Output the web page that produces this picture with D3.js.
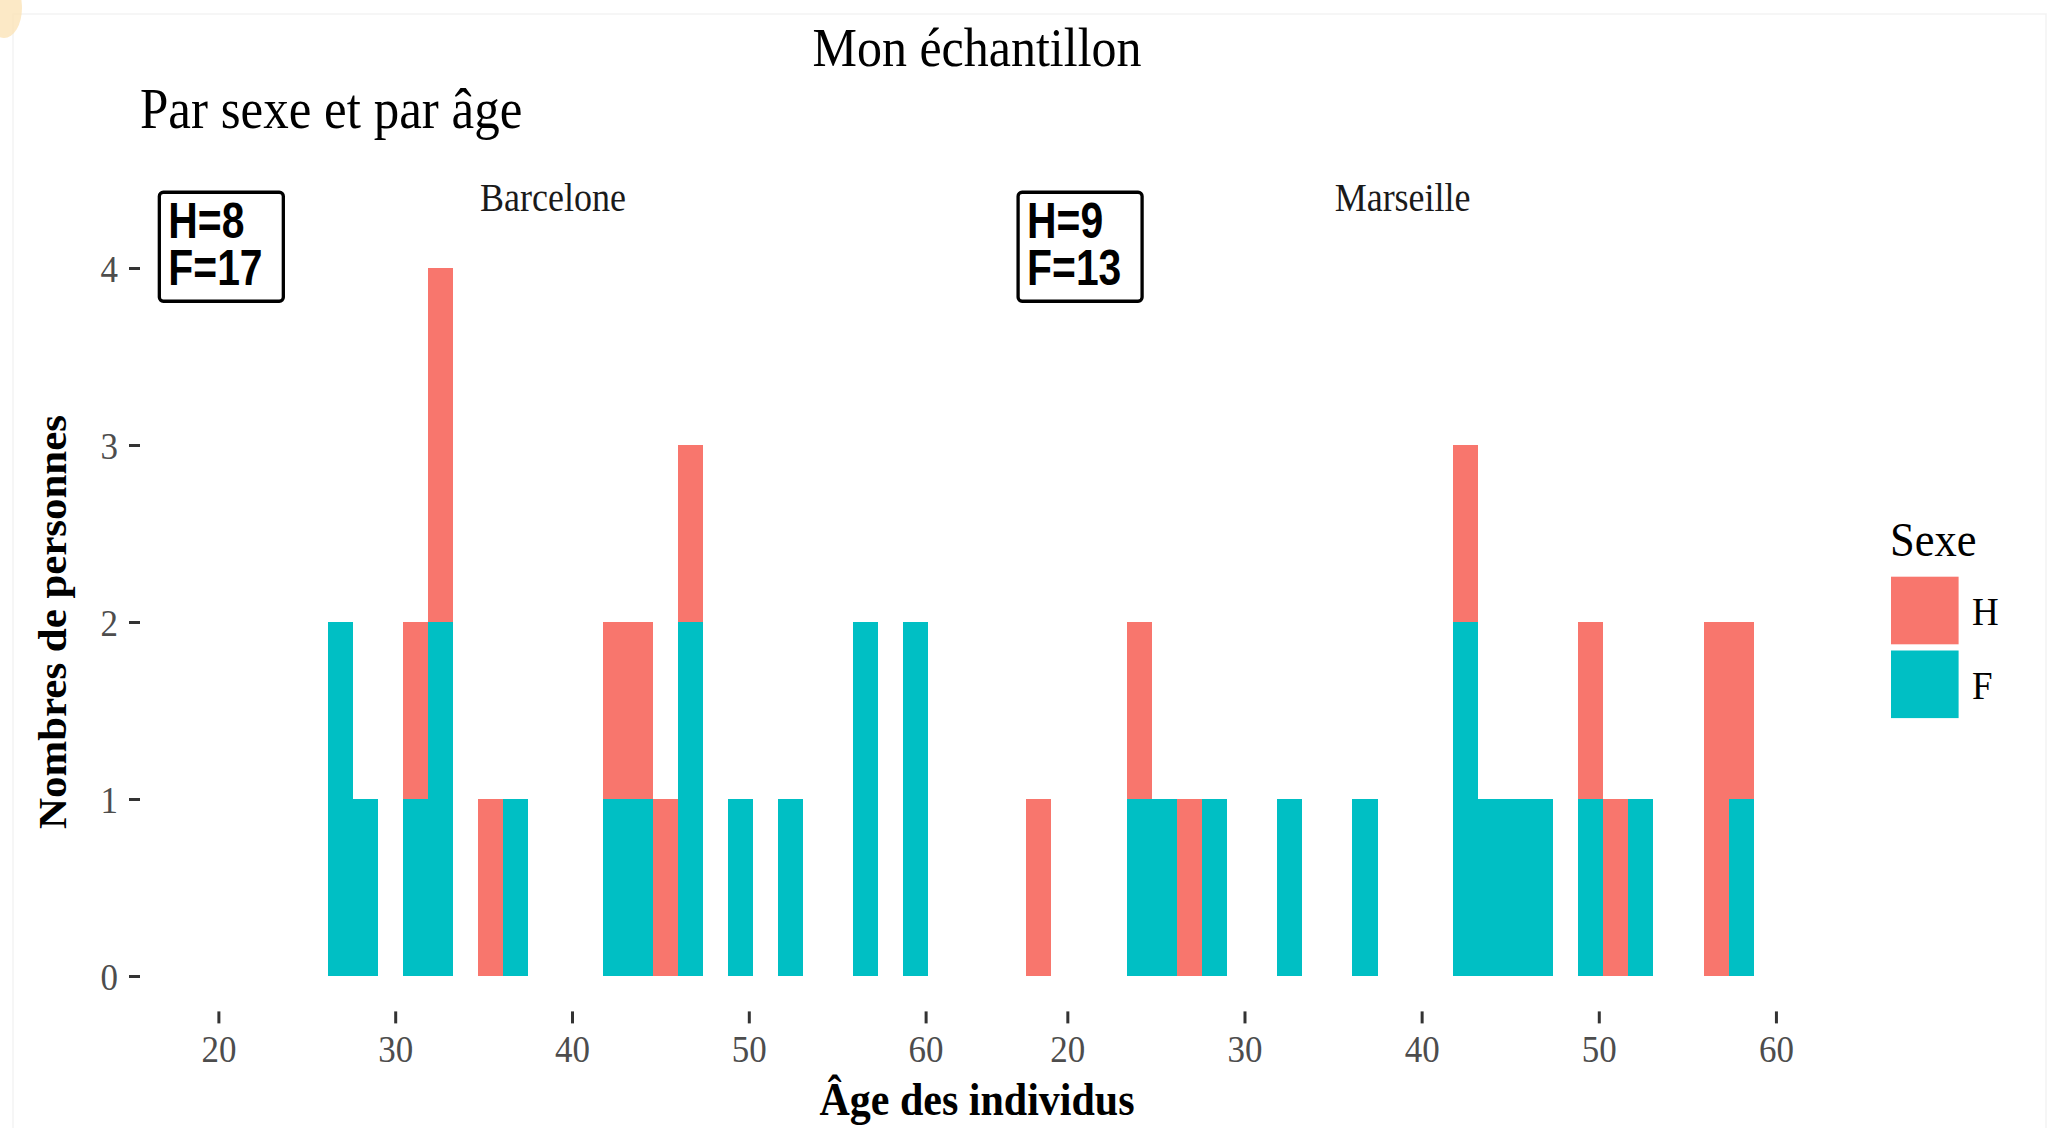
<!DOCTYPE html>
<html>
<head>
<meta charset="utf-8">
<script src="https://cdn.jsdelivr.net/npm/d3@7"></script>
<style>
  html, body { margin: 0; padding: 0; background: #fff; }
  svg { display: block; }
  .serif { font-family: "Liberation Serif", "Times New Roman", serif; }
</style>
</head>
<body>
<div id="chart"></div>
<script>
// Histogram bins (30 bins, same for both facets)
const binStart = 17.69;
const binWidth = 1.4157;
const nBins = 30;

// counts per bin, index 0..29
const barceloneH = [0,0,0,0,0,0,0,0,0,1,2,0,1,0,0,0,0,1,1,1,1,0,0,0,0,0,0,0,0,0];
const barceloneF = [0,0,0,0,0,0,2,1,0,1,2,0,0,1,0,0,0,1,1,0,2,0,1,0,1,0,0,2,0,2];
const marseilleH = [1,0,0,0,1,0,1,0,0,0,0,0,0,0,0,0,0,1,0,0,0,0,1,1,0,0,0,2,1,0];
const marseilleF = [0,0,0,0,1,1,0,1,0,0,1,0,0,1,0,0,0,2,1,1,1,0,1,0,1,0,0,0,1,0];

const cities = ['Barcelone', 'Marseille'];
const sexes = ['H', 'F'];
const xTicks = [20, 30, 40, 50, 60];
const yTicks = [0, 1, 2, 3, 4];
// where the count labels sit (age, count)
const labelAges = [16.66, 17.22];
const labelCount = 4.12;

const colors = { H: '#F8766D', F: '#00BFC4' };
const SY = 1.1; // the picture is a bit taller than wide

(function() {
  const width = 2063, height = 1128;
  const panelTop = 232.6, panelBottom = 1011.4;
  const panelX = [[140, 966], [988.8, 1816.4]];

  const svg = d3.select('#chart').append('svg')
    .attr('width', width)
    .attr('height', height)
    .style('background', '#fff');

  // faint frame of the screenshot
  svg.append('rect')
    .attr('x', 13).attr('y', 14).attr('width', 2033).attr('height', 1200)
    .attr('fill', 'none').attr('stroke', '#f3f3f3').attr('stroke-width', 1.5);
  svg.append('ellipse')
    .attr('cx', 4).attr('cy', 8).attr('rx', 18).attr('ry', 30)
    .attr('fill', '#fbe3b8').attr('opacity', 0.8);

  // helper for text with the vertical stretch
  function txt(x, y, s, size, opts = {}) {
    return svg.append('text')
      .attr('class', 'serif')
      .attr('transform', `translate(${x},${y}) scale(1,${SY})` + (opts.rotate ? ` rotate(${opts.rotate})` : ''))
      .attr('font-size', size)
      .attr('font-weight', opts.bold ? 'bold' : 'normal')
      .attr('text-anchor', opts.anchor || 'start')
      .attr('fill', opts.fill || '#000')
      .text(s);
  }

  const dataSets = {
    Barcelone: { H: barceloneH, F: barceloneF },
    Marseille: { H: marseilleH, F: marseilleF }
  };

  const dataMin = binStart;
  const dataMax = binStart + nBins * binWidth;
  const pad = 0.05 * (dataMax - dataMin);

  const y = d3.scaleLinear()
    .domain([-0.2, 4.2])
    .range([panelBottom, panelTop]);

  const stack = d3.stack().keys(['F', 'H']);

  cities.forEach((city, ci) => {
    const x = d3.scaleLinear()
      .domain([dataMin - pad, dataMax + pad])
      .range(panelX[ci]);

    const rows = d3.range(nBins).map(i => ({
      x0: binStart + i * binWidth,
      x1: binStart + (i + 1) * binWidth,
      F: dataSets[city].F[i],
      H: dataSets[city].H[i]
    }));

    const g = svg.append('g').attr('shape-rendering', 'crispEdges');
    stack(rows).forEach(layer => {
      g.selectAll(null)
        .data(layer.filter(d => d[1] > d[0]))
        .join('rect')
        .attr('x', d => x(d.data.x0))
        .attr('width', d => x(d.data.x1) - x(d.data.x0))
        .attr('y', d => y(d[1]))
        .attr('height', d => y(d[0]) - y(d[1]))
        .attr('fill', colors[layer.key]);
    });

    // x axis
    const xa = svg.append('g')
      .attr('transform', `translate(0,${panelBottom})`)
      .call(d3.axisBottom(x).tickValues(xTicks).tickSize(12).tickFormat(d3.format('d')));
    xa.select('.domain').remove();
    xa.selectAll('.tick line').attr('stroke', '#333333').attr('stroke-width', 3);
    xa.selectAll('.tick text')
      .attr('class', 'serif')
      .attr('y', null).attr('dy', null)
      .attr('transform', `translate(0,51) scale(1,${SY})`)
      .attr('font-size', 35)
      .attr('fill', '#4D4D4D');

    // y axis only on first panel
    if (ci === 0) {
      const ya = svg.append('g')
        .attr('transform', `translate(${panelX[0][0]},0)`)
        .call(d3.axisLeft(y).tickValues(yTicks).tickSize(11).tickFormat(d3.format('d')));
      ya.select('.domain').remove();
      ya.selectAll('.tick line').attr('stroke', '#333333').attr('stroke-width', 3);
      ya.selectAll('.tick text')
        .attr('class', 'serif')
        .attr('x', null).attr('dy', null)
        .attr('transform', `translate(-22,13) scale(1,${SY})`)
        .attr('font-size', 35)
        .attr('fill', '#4D4D4D');
    }

    // strip label
    txt((panelX[ci][0] + panelX[ci][1]) / 2, 211, city, 36, { anchor: 'middle', fill: '#1A1A1A' });

    // count label box (one text, two lines)
    const bx = x(labelAges[ci]);
    const byc = y(labelCount);
    const bw = 124, bh = 109;
    svg.append('rect')
      .attr('x', bx).attr('y', byc - bh / 2)
      .attr('width', bw).attr('height', bh)
      .attr('rx', 4)
      .attr('fill', '#fff')
      .attr('stroke', '#000')
      .attr('stroke-width', 3.3);
    const sx = 0.95, sy = SY * 1.06;
    const lbl = svg.append('text')
      .attr('transform', `translate(${bx + 9},${byc - bh / 2 + 46}) scale(${sx},${sy})`)
      .attr('font-family', '"Liberation Sans", Arial, sans-serif')
      .attr('font-weight', 'bold')
      .attr('font-size', 43)
      .attr('fill', '#000');
    sexes.forEach((s, li) => {
      lbl.append('tspan')
        .attr('x', 0)
        .attr('y', li * 46.6 / sy)
        .text(`${s}=${d3.sum(dataSets[city][s])}`);
    });
  });

  // titles
  txt(977, 66, 'Mon échantillon', 50, { anchor: 'middle' });
  txt(140, 128, 'Par sexe et par âge', 51);
  txt(977, 1115, 'Âge des individus', 42, { anchor: 'middle', bold: true });
  txt(66, 622, 'Nombres de personnes', 39, { anchor: 'middle', bold: true, rotate: -90 });

  // legend
  txt(1890, 556, 'Sexe', 44.5);
  const keyY = { H: 576.7, F: 650.5 };
  sexes.forEach(s => {
    svg.append('rect')
      .attr('x', 1891).attr('y', keyY[s])
      .attr('width', 67.6).attr('height', 67.6)
      .attr('fill', colors[s]);
    txt(1972, keyY[s] + 48.5, s, 37);
  });
})();
</script>
</body>
</html>
